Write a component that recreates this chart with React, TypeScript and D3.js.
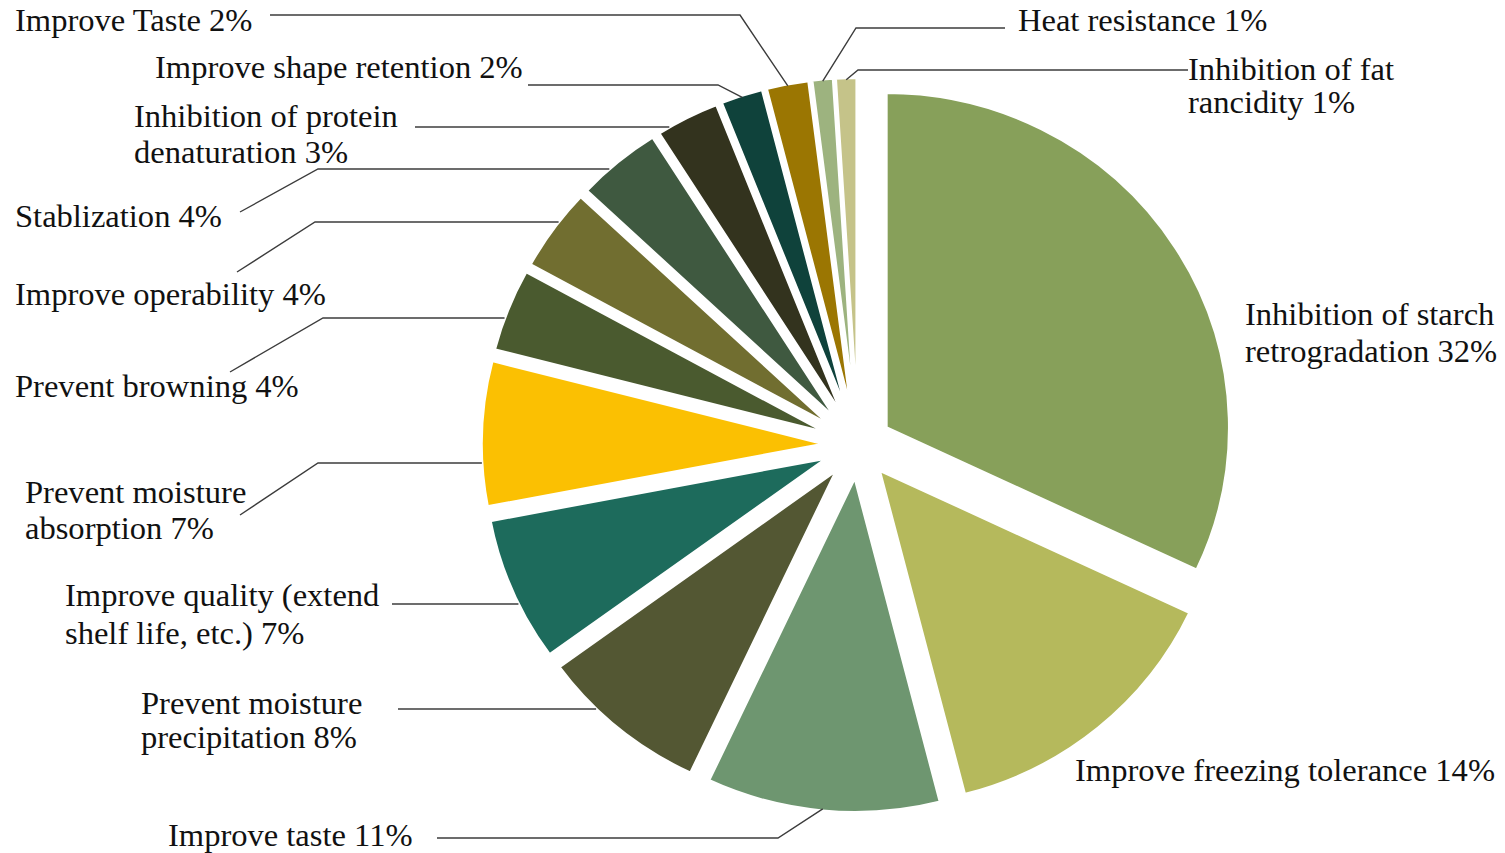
import React from "react";
import * as d3 from "d3";

// ---- data ----
const categories = [
  "Inhibition of starch retrogradation",
  "Improve freezing tolerance",
  "Improve taste",
  "Prevent moisture precipitation",
  "Improve quality (extend shelf life, etc.)",
  "Prevent moisture absorption",
  "Prevent browning",
  "Improve operability",
  "Stablization",
  "Inhibition of protein denaturation",
  "Improve shape retention",
  "Improve Taste",
  "Heat resistance",
  "Inhibition of fat rancidity",
];
const values = [32, 14, 11, 8, 7, 7, 4, 4, 4, 3, 2, 2, 1, 1];
const colors = [
  "#87a05a", "#b5b95c", "#6e9670", "#535733", "#1d6b5c", "#fbc002", "#4a5a2f",
  "#716e30", "#3f5940", "#33331e", "#0f423b", "#9b7602", "#9db37f", "#c5c389",
];

// ---- layout (label placement, not data) ----
type Layout = {
  x: number; y: number; words1?: number; gap?: number;
  pts?: [number, number][]; end?: "h" | "b";
};
const layout: Layout[] = [
  { x: 1245, y: 325, words1: 3, gap: 37 },
  { x: 1075, y: 781 },
  { x: 168, y: 846, pts: [[437, 838], [778, 838]], end: "b" },
  { x: 141, y: 714, words1: 2, gap: 34, pts: [[398, 709]], end: "h" },
  { x: 65, y: 606, words1: 3, gap: 38, pts: [[392, 604]], end: "h" },
  { x: 25, y: 503, words1: 2, gap: 36, pts: [[240, 515], [318, 463]], end: "h" },
  { x: 15, y: 397, pts: [[230, 372], [323, 318]], end: "h" },
  { x: 15, y: 305, pts: [[237, 272], [315, 222]], end: "h" },
  { x: 15, y: 227, pts: [[240, 212], [318, 169]], end: "h" },
  { x: 134, y: 127, words1: 3, gap: 36, pts: [[415, 127]], end: "h" },
  { x: 155, y: 78, pts: [[528, 85], [718, 85]], end: "b" },
  { x: 15, y: 31, pts: [[270, 15], [740, 15]], end: "b" },
  { x: 1018, y: 31, pts: [[1005, 28], [856, 28]], end: "b" },
  { x: 1188, y: 80, words1: 3, gap: 33, pts: [[1188, 70], [858, 70]], end: "b" },
];

const W = 1505, H = 853;
const CX = 858, CY = 445, R = 335, EXPLODE = 32.5, SX = 1.025, TEXT_SX = 1.05;

export default function App() {
  const pie = d3.pie<number>().sort(null).value((d) => d).startAngle(0).endAngle(2 * Math.PI);
  const arcs = pie(values);
  const arcGen = d3.arc<d3.PieArcDatum<number>>().innerRadius(0).outerRadius(R);
  const mapX = (x: number) => CX + (x - CX) * SX;

  const apex = arcs.map((a) => {
    const m = (a.startAngle + a.endAngle) / 2;
    return [CX + EXPLODE * Math.sin(m), CY - EXPLODE * Math.cos(m), m] as [number, number, number];
  });

  return (
    <svg width={W} height={H} style={{ position: "absolute", left: 0, top: 0, background: "#fff" }}
      fontFamily="'Liberation Serif', 'Times New Roman', serif" fontSize={31}>
      <g transform={`translate(${CX},0) scale(${SX},1) translate(${-CX},0)`}>
        {arcs.map((a, i) => (
          <path key={i} d={arcGen(a) || ""} transform={`translate(${apex[i][0]},${apex[i][1]})`}
            fill={colors[i]} stroke="#fff" strokeWidth={3} strokeLinejoin="round" />
        ))}
      </g>
      {layout.map((l, i) => {
        const label = `${categories[i]} ${values[i]}%`;
        const words = label.split(" ");
        const lines = l.words1 ? [words.slice(0, l.words1).join(" "), words.slice(l.words1).join(" ")] : [label];
        let leader: string | null = null;
        if (l.pts) {
          const pts = l.pts.slice();
          const [ax, ay, m] = apex[i];
          const last = pts[pts.length - 1];
          if (l.end === "h") {
            const dy = last[1] - ay;
            const dx = Math.sqrt(Math.max(0, R * R - dy * dy));
            pts.push([mapX(ax - dx), last[1]]);
          } else {
            pts.push([mapX(ax + (R - 2) * Math.sin(m)), ay - (R - 2) * Math.cos(m)]);
          }
          leader = d3.line()(pts);
        }
        return (
          <g key={i}>
            {leader && <path d={leader} fill="none" stroke="#3c3c3c" strokeWidth={1.4} />}
            {lines.map((t, k) => (
              <text key={k} transform={`translate(${l.x},${l.y + k * (l.gap || 36)}) scale(${TEXT_SX},1)`}
                fill="#111">{t}</text>
            ))}
          </g>
        );
      })}
    </svg>
  );
}
